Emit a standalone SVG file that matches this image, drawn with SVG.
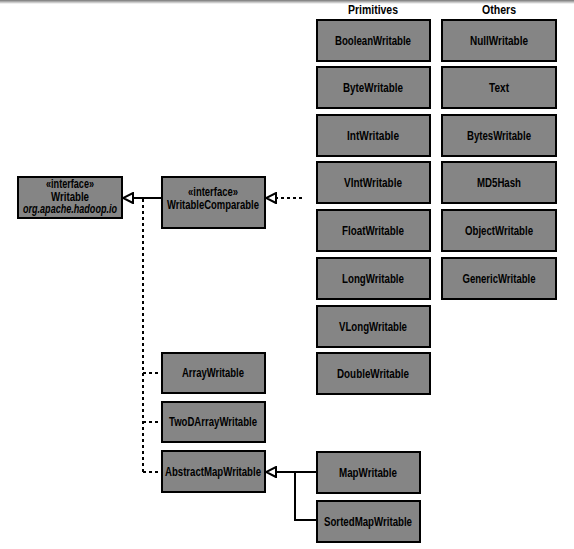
<svg xmlns="http://www.w3.org/2000/svg" width="574" height="549" viewBox="0 0 574 549">
<defs>
<linearGradient id="topband" x1="0" y1="0" x2="0" y2="1">
<stop offset="0" stop-color="#777"/>
<stop offset="1" stop-color="#fff"/>
</linearGradient>
<marker id="tri" viewBox="0 0 12 12" refX="11" refY="6" markerWidth="12" markerHeight="12" markerUnits="userSpaceOnUse" orient="auto">
<path d="M1,1 L11,6 L1,11 Z" fill="#fff" stroke="#000" stroke-width="2" stroke-linejoin="miter"/>
</marker>
</defs>
<style>
.box{fill:#858585;stroke:#000;stroke-width:2}
.t{font-family:"Liberation Sans",Arial,sans-serif;font-weight:bold;font-size:12.5px;fill:#000;text-anchor:middle}
.h{font-family:"Liberation Sans",Arial,sans-serif;font-weight:bold;font-size:12px;fill:#000;text-anchor:middle}
.solid{fill:none;stroke:#000;stroke-width:2}
.dash{fill:none;stroke:#000;stroke-width:2;stroke-dasharray:3,3}
</style>
<rect x="0" y="0" width="574" height="4" fill="url(#topband)"/>
<text class="h" x="373" y="14" textLength="50" lengthAdjust="spacingAndGlyphs">Primitives</text>
<text class="h" x="499" y="14" textLength="34" lengthAdjust="spacingAndGlyphs">Others</text>

<g id="connectors">
<path class="solid" d="M162,198 H123" marker-end="url(#tri)"/>
<path class="dash" d="M143,199 V472 M143,373 H162 M143,422 H162 M143,472 H162"/>
<path class="dash" d="M302,198 H266" marker-end="url(#tri)"/>
<path class="solid" d="M317,472 H266" marker-end="url(#tri)"/>
<path class="solid" d="M295,472 V520 H317"/>
</g>

<g id="Writable"><rect class="box" x="18" y="177" width="104" height="41"/>
<text class="t" x="70" y="188" textLength="48" lengthAdjust="spacingAndGlyphs" font-weight="normal" font-size="9">«interface»</text>
<text class="t" x="70" y="200.5" textLength="38" lengthAdjust="spacingAndGlyphs" font-size="11">Writable</text>
<text class="t" x="70" y="213" textLength="94" lengthAdjust="spacingAndGlyphs" font-style="italic" font-size="9">org.apache.hadoop.io</text></g>
<g id="WritableComparable"><rect class="box" x="162" y="177" width="103" height="51"/>
<text class="t" x="213" y="196" textLength="50" lengthAdjust="spacingAndGlyphs" font-weight="normal" font-size="10">«interface»</text>
<text class="t" x="213" y="209" textLength="92" lengthAdjust="spacingAndGlyphs">WritableComparable</text></g>

<g id="BooleanWritable"><rect class="box" x="317" y="20" width="113" height="41"/><text class="t" x="373" y="45" textLength="76" lengthAdjust="spacingAndGlyphs">BooleanWritable</text></g>
<g id="ByteWritable"><rect class="box" x="317" y="67" width="113" height="41"/><text class="t" x="373" y="92" textLength="60" lengthAdjust="spacingAndGlyphs">ByteWritable</text></g>
<g id="IntWritable"><rect class="box" x="317" y="115" width="113" height="41"/><text class="t" x="373" y="140" textLength="52" lengthAdjust="spacingAndGlyphs">IntWritable</text></g>
<g id="VIntWritable"><rect class="box" x="317" y="162" width="113" height="41"/><text class="t" x="373" y="187" textLength="58" lengthAdjust="spacingAndGlyphs">VIntWritable</text></g>
<g id="FloatWritable"><rect class="box" x="317" y="210" width="113" height="41"/><text class="t" x="373" y="235" textLength="62" lengthAdjust="spacingAndGlyphs">FloatWritable</text></g>
<g id="LongWritable"><rect class="box" x="317" y="258" width="113" height="41"/><text class="t" x="373" y="283" textLength="62" lengthAdjust="spacingAndGlyphs">LongWritable</text></g>
<g id="VLongWritable"><rect class="box" x="317" y="306" width="113" height="41"/><text class="t" x="373" y="331" textLength="68" lengthAdjust="spacingAndGlyphs">VLongWritable</text></g>
<g id="DoubleWritable"><rect class="box" x="317" y="353" width="113" height="41"/><text class="t" x="373" y="378" textLength="72" lengthAdjust="spacingAndGlyphs">DoubleWritable</text></g>

<g id="NullWritable"><rect class="box" x="442" y="20" width="114" height="41"/><text class="t" x="499" y="45" textLength="58" lengthAdjust="spacingAndGlyphs">NullWritable</text></g>
<g id="Text"><rect class="box" x="442" y="67" width="114" height="41"/><text class="t" x="499" y="92" textLength="20" lengthAdjust="spacingAndGlyphs">Text</text></g>
<g id="BytesWritable"><rect class="box" x="442" y="115" width="114" height="41"/><text class="t" x="499" y="140" textLength="64" lengthAdjust="spacingAndGlyphs">BytesWritable</text></g>
<g id="MD5Hash"><rect class="box" x="442" y="162" width="114" height="41"/><text class="t" x="499" y="187" textLength="44" lengthAdjust="spacingAndGlyphs">MD5Hash</text></g>
<g id="ObjectWritable"><rect class="box" x="442" y="210" width="114" height="41"/><text class="t" x="499" y="235" textLength="68" lengthAdjust="spacingAndGlyphs">ObjectWritable</text></g>
<g id="GenericWritable"><rect class="box" x="442" y="258" width="114" height="41"/><text class="t" x="499" y="283" textLength="73" lengthAdjust="spacingAndGlyphs">GenericWritable</text></g>

<g id="ArrayWritable"><rect class="box" x="162" y="353" width="103" height="40"/><text class="t" x="213" y="377" textLength="62" lengthAdjust="spacingAndGlyphs">ArrayWritable</text></g>
<g id="TwoDArrayWritable"><rect class="box" x="162" y="402" width="103" height="40"/><text class="t" x="213" y="426" textLength="88" lengthAdjust="spacingAndGlyphs">TwoDArrayWritable</text></g>
<g id="AbstractMapWritable"><rect class="box" x="162" y="451" width="103" height="41"/><text class="t" x="213" y="476" textLength="96" lengthAdjust="spacingAndGlyphs">AbstractMapWritable</text></g>
<g id="MapWritable"><rect class="box" x="317" y="452" width="103" height="41"/><text class="t" x="368" y="477" textLength="58" lengthAdjust="spacingAndGlyphs">MapWritable</text></g>
<g id="SortedMapWritable"><rect class="box" x="317" y="501" width="103" height="41"/><text class="t" x="368" y="526" textLength="88" lengthAdjust="spacingAndGlyphs">SortedMapWritable</text></g>
</svg>
